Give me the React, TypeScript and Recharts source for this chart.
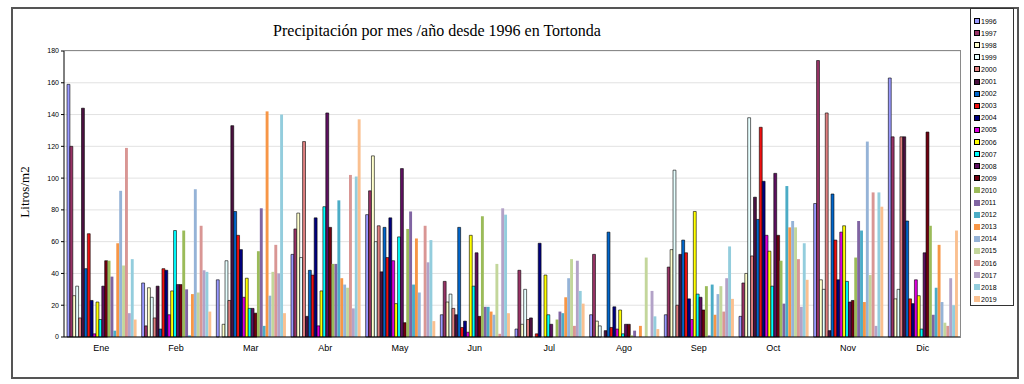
import { BarChart, Bar, XAxis, YAxis, CartesianGrid } from 'recharts';

const months = ['Ene', 'Feb', 'Mar', 'Abr', 'May', 'Jun', 'Jul', 'Ago', 'Sep', 'Oct', 'Nov', 'Dic'];
const yTicks = [0, 20, 40, 60, 80, 100, 120, 140, 160, 180];

// litros/m2 por mes, un array por año
const y1996 = [159, 34, 36, 52, 77, 14, 5, 14, 14, 13, 84, 163];
const y1997 = [120, 7, 0, 68, 92, 35, 42, 52, 44, 34, 174, 126];
const y1998 = [26, 31, 8, 78, 114, 22, 8, 10, 55, 40, 36, 24];
const y1999 = [32, 25, 48, 50, 60, 27, 30, 7, 105, 138, 30, 30];
const y2000 = [12, 12, 23, 123, 70, 18, 11, 0, 20, 51, 141, 126];
const y2001 = [144, 32, 133, 13, 41, 14, 12, 4, 52, 88, 4, 126];
const y2002 = [43, 5, 79, 42, 69, 69, 0, 66, 61, 74, 90, 73];
const y2003 = [65, 43, 64, 39, 50, 6, 2, 6, 53, 132, 61, 24];
const y2004 = [23, 42, 55, 75, 75, 10, 59, 19, 24, 98, 36, 21];
const y2005 = [2, 14, 25, 7, 48, 3, 0, 5, 11, 64, 66, 36];
const y2006 = [22, 29, 37, 29, 21, 64, 39, 17, 79, 54, 70, 26];
const y2007 = [11, 67, 18, 82, 63, 32, 14, 2, 27, 32, 35, 5];
const y2008 = [32, 33, 18, 141, 106, 53, 8, 8, 25, 103, 22, 53];
const y2009 = [48, 33, 15, 69, 9, 13, 0, 8, 17, 64, 23, 129];
const y2010 = [48, 67, 54, 46, 68, 76, 11, 1, 32, 48, 50, 70];
const y2011 = [38, 30, 81, 46, 79, 19, 16, 4, 1, 21, 73, 14];
const y2012 = [4, 1, 7, 86, 33, 19, 15, 0, 33, 95, 67, 31];
const y2013 = [59, 27, 142, 37, 62, 16, 25, 7, 14, 69, 22, 58];
const y2014 = [92, 93, 26, 33, 28, 14, 37, 0, 27, 73, 123, 22];
const y2015 = [45, 28, 41, 31, 0, 46, 49, 50, 32, 69, 39, 9];
const y2016 = [119, 70, 58, 102, 70, 2, 7, 0, 16, 49, 91, 7];
const y2017 = [15, 42, 40, 18, 47, 81, 48, 29, 37, 19, 7, 37];
const y2018 = [49, 41, 140, 101, 61, 77, 29, 13, 57, 59, 91, 20];
const y2019 = [11, 16, 15, 137, 10, 15, 21, 5, 24, 36, 82, 67];

const series = [
  { year: '1996', values: y1996, color: '#9999FF' },
  { year: '1997', values: y1997, color: '#993366' },
  { year: '1998', values: y1998, color: '#FFFFCC' },
  { year: '1999', values: y1999, color: '#E6FFFF' },
  { year: '2000', values: y2000, color: '#E08080' },
  { year: '2001', values: y2001, color: '#4B1040' },
  { year: '2002', values: y2002, color: '#0066CC' },
  { year: '2003', values: y2003, color: '#EE1111' },
  { year: '2004', values: y2004, color: '#000080' },
  { year: '2005', values: y2005, color: '#DD00DD' },
  { year: '2006', values: y2006, color: '#FFFF00' },
  { year: '2007', values: y2007, color: '#00FFFF' },
  { year: '2008', values: y2008, color: '#5E1060' },
  { year: '2009', values: y2009, color: '#700010' },
  { year: '2010', values: y2010, color: '#9BBB59' },
  { year: '2011', values: y2011, color: '#8064A2' },
  { year: '2012', values: y2012, color: '#4BACC6' },
  { year: '2013', values: y2013, color: '#F79646' },
  { year: '2014', values: y2014, color: '#95B3D7' },
  { year: '2015', values: y2015, color: '#C3D69B' },
  { year: '2016', values: y2016, color: '#D99694' },
  { year: '2017', values: y2017, color: '#B3A2C7' },
  { year: '2018', values: y2018, color: '#93CDDD' },
  { year: '2019', values: y2019, color: '#FAC090' },
];

const data = months.map((m, i) => {
  const row: Record<string, string | number> = { name: m };
  series.forEach((s) => {
    row[s.year] = s.values[i];
  });
  return row;
});

const sans = 'Arial, "Liberation Sans", sans-serif';
const serif = '"Times New Roman", "Liberation Serif", serif';

export default function App() {
  return (
    <div style={{ position: 'relative', width: 1024, height: 384, background: '#fff', overflow: 'hidden' }}>
      <style>{'body{margin:0}'}</style>
      {/* outer frame */}
      <div style={{ position: 'absolute', left: 11, top: 7, width: 1004, height: 368, border: '2px solid #555' }} />

      <div
        style={{
          position: 'absolute',
          left: 0,
          top: 22,
          width: 874,
          textAlign: 'center',
          fontFamily: serif,
          fontSize: 16,
          color: '#000',
        }}
      >
        Precipitación por mes /año desde 1996 en Tortonda
      </div>

      <div
        style={{
          position: 'absolute',
          left: 25,
          top: 192,
          transform: 'translate(-50%, -50%) rotate(-90deg)',
          fontFamily: serif,
          fontSize: 13,
          whiteSpace: 'nowrap',
        }}
      >
        Litros/m2
      </div>

      <div style={{ position: 'absolute', left: 0, top: 0 }}>
        <BarChart
          width={1024}
          height={384}
          data={data}
          margin={{ top: 51, right: 64, left: 14, bottom: 17 }}
          barSize={2.9}
          barGap={0}
        >
          <CartesianGrid vertical={false} stroke="#e2e2e2" />
          <XAxis
            dataKey="name"
            height={30}
            tickLine={false}
            axisLine={{ stroke: '#000' }}
            tick={{ fontSize: 9, fontFamily: sans, fill: '#000' }}
            interval={0}
          />
          <YAxis
            width={50}
            domain={[0, 180]}
            ticks={yTicks}
            tickSize={3}
            axisLine={{ stroke: '#000' }}
            tickLine={{ stroke: '#000' }}
            tick={{ fontSize: 7, fontFamily: sans, fill: '#000' }}
          />
          {series.map((s, i) => (
            <Bar
              key={s.year}
              dataKey={s.year}
              fill={s.color}
              stroke={i < 14 ? '#000' : 'none'}
              strokeWidth={0.6}
              isAnimationActive={false}
            />
          ))}
        </BarChart>
      </div>

      {/* plot area frame: top and right edges */}
      <div
        style={{
          position: 'absolute',
          left: 64,
          top: 50,
          width: 896,
          height: 287,
          borderTop: '1px solid #8a8a8a',
          borderRight: '1px solid #8a8a8a',
          pointerEvents: 'none',
        }}
      />

      {/* legend */}
      <div
        style={{
          position: 'absolute',
          left: 970,
          top: 8,
          width: 42,
          height: 296,
          border: '1px solid #333',
          background: '#fff',
          fontFamily: sans,
          fontSize: 7,
        }}
      >
        {series.map((s, i) => (
          <div
            key={s.year}
            style={{ position: 'absolute', left: 3, top: 8 + i * 12.1, display: 'flex', alignItems: 'center', height: 8 }}
          >
            <span
              style={{
                display: 'inline-block',
                width: 4,
                height: 4,
                background: s.color,
                border: i < 14 ? '1px solid #000' : '1px solid ' + s.color,
                marginRight: 1,
              }}
            />
            <span>{s.year}</span>
          </div>
        ))}
      </div>
    </div>
  );
}
